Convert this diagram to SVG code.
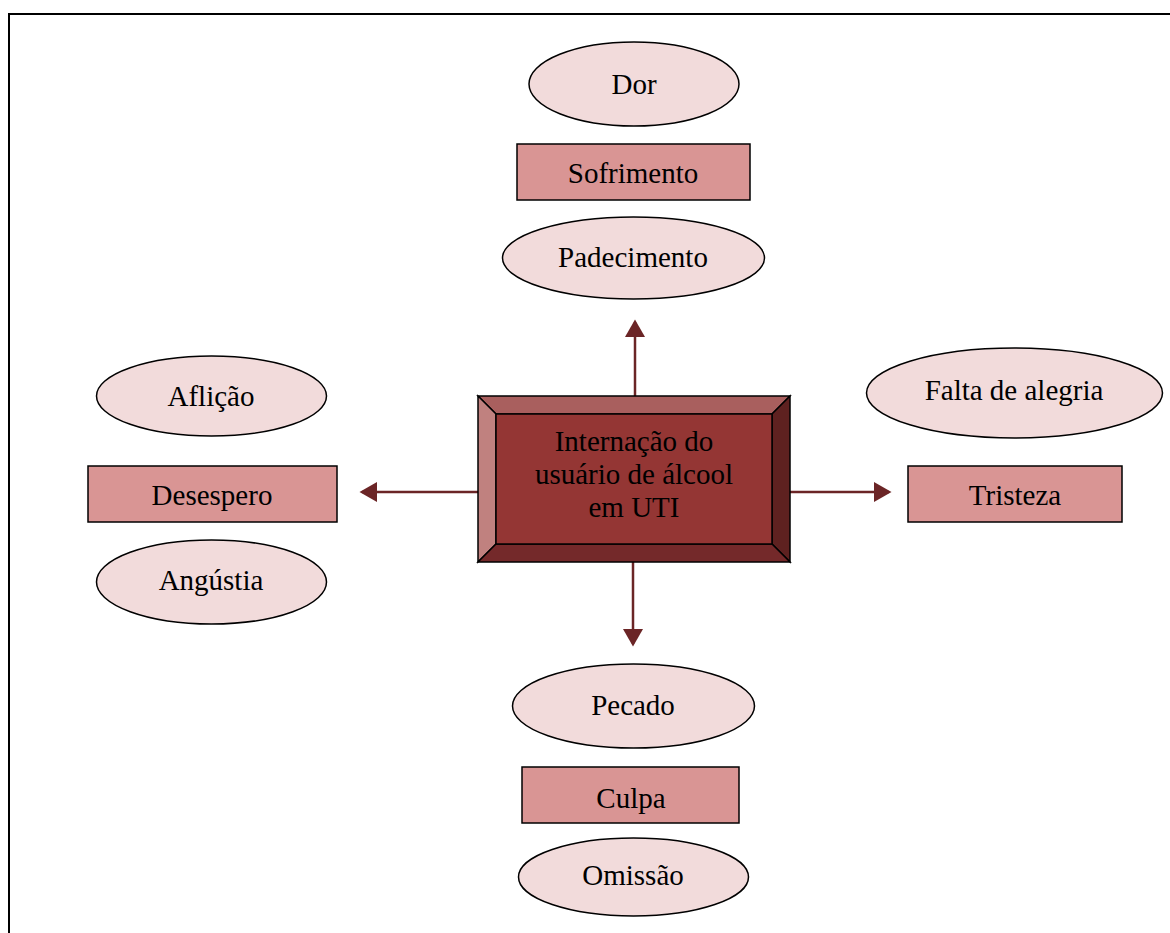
<svg xmlns="http://www.w3.org/2000/svg" width="1170" height="933" viewBox="0 0 1170 933">
<style>
.el{fill:#f2dbdb;stroke:#000;stroke-width:1.5}
.rc{fill:#d99594;stroke:#000;stroke-width:1.5}
.t{font-family:"Liberation Serif","Times New Roman",serif;font-size:29px;fill:#000;text-anchor:middle;dominant-baseline:central}
.c{stroke:#6b2526;stroke-width:2.5;fill:none;marker-end:url(#ah)}
</style>
<defs>
<marker id="ah" markerWidth="8" markerHeight="8" refX="6" refY="4" orient="auto" markerUnits="strokeWidth">
<path d="M0,0 L7,4 L0,8 Z" fill="#6b2526"/>
</marker>
</defs>
<rect x="0" y="0" width="1170" height="933" fill="#fff"/>
<path d="M9,933 L9,14 L1170,14" fill="none" stroke="#000" stroke-width="2"/>
<g id="connectors">
<line class="c" x1="635" y1="396" x2="635" y2="322"/>
<line class="c" x1="478" y1="492" x2="362" y2="492"/>
<line class="c" x1="790" y1="492" x2="889" y2="492"/>
<line class="c" x1="633" y1="562" x2="633" y2="644"/>
</g>
<g id="center">
<polygon points="478,396 790,396 772,414 496,414" fill="#a95f5e" stroke="#000" stroke-width="1.5"/>
<polygon points="478,396 496,414 496,544 478,562" fill="#c0817f" stroke="#000" stroke-width="1.5"/>
<polygon points="790,396 790,562 772,544 772,414" fill="#5e2120" stroke="#000" stroke-width="1.5"/>
<polygon points="478,562 496,544 772,544 790,562" fill="#74292a" stroke="#000" stroke-width="1.5"/>
<rect x="496" y="414" width="276" height="130" fill="#943634" stroke="#000" stroke-width="1.5"/>
<text class="t" x="634" y="441">Internação do</text>
<text class="t" x="634" y="474">usuário de álcool</text>
<text class="t" x="634" y="507">em UTI</text>
</g>
<g id="dor"><ellipse class="el" cx="634" cy="84" rx="105" ry="42"/><text class="t" x="634" y="84">Dor</text></g>
<g id="sofrimento"><rect class="rc" x="517" y="144" width="233" height="56"/><text class="t" x="633" y="173">Sofrimento</text></g>
<g id="padecimento"><ellipse class="el" cx="633.5" cy="258" rx="131" ry="41"/><text class="t" x="633" y="257">Padecimento</text></g>
<g id="aflicao"><ellipse class="el" cx="211.5" cy="396" rx="115" ry="40"/><text class="t" x="211" y="396">Aflição</text></g>
<g id="desespero"><rect class="rc" x="88" y="466" width="249" height="56"/><text class="t" x="212" y="495">Desespero</text></g>
<g id="angustia"><ellipse class="el" cx="211.5" cy="582" rx="115" ry="42"/><text class="t" x="211" y="580">Angústia</text></g>
<g id="falta"><ellipse class="el" cx="1014.5" cy="393" rx="148" ry="45"/><text class="t" x="1014" y="390">Falta de alegria</text></g>
<g id="tristeza"><rect class="rc" x="908" y="466" width="214" height="56"/><text class="t" x="1015" y="495">Tristeza</text></g>
<g id="pecado"><ellipse class="el" cx="633.5" cy="706" rx="121" ry="42"/><text class="t" x="633" y="705">Pecado</text></g>
<g id="culpa"><rect class="rc" x="522" y="767" width="217" height="56"/><text class="t" x="631" y="798">Culpa</text></g>
<g id="omissao"><ellipse class="el" cx="633.5" cy="877" rx="115" ry="39"/><text class="t" x="633" y="875">Omissão</text></g>
</svg>
